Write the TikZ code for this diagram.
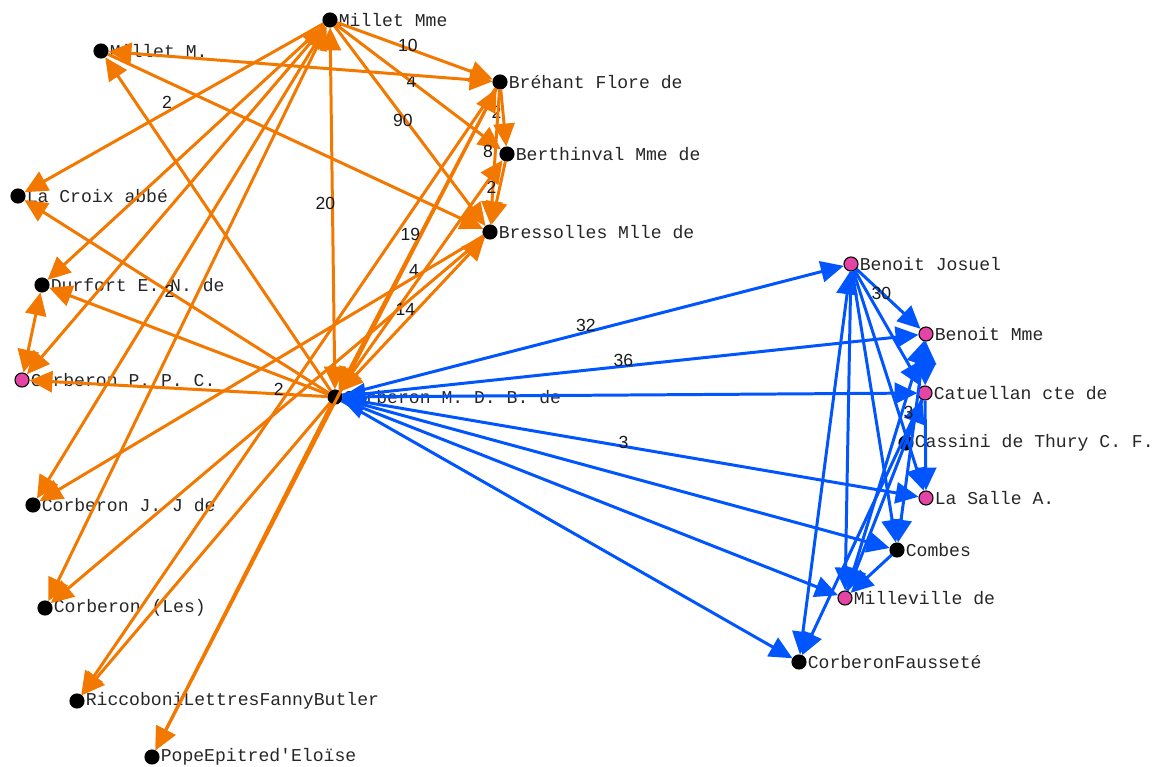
\documentclass[tikz,border=0pt]{standalone}
\usepackage{fontspec}
\setmainfont{Liberation Sans}
\newfontfamily\namefont{Liberation Mono}
\usetikzlibrary{arrows.meta}

\definecolor{edgeorange}{RGB}{242,120,0}
\definecolor{edgeblue}{RGB}{0,85,255}
\definecolor{dotpink}{RGB}{228,68,164}

\begin{document}
\begin{tikzpicture}[
  >={Triangle[length=13pt,width=12pt]},
  namelabel/.style={font=\namefont\fontsize{10.3}{12}\selectfont,text=black!85,inner sep=0.5pt},
  person/.style={circle,draw=black,fill=black,line width=.6pt,minimum size=8pt,inner sep=0pt,
    label={[namelabel]east:{#1}}},
  pinkperson/.style={person={#1},fill=dotpink},
  oedge/.style={draw=edgeorange,line width=1.7pt,->},
  bedge/.style={draw=edgeblue,line width=1.7pt,->},
  weight/.style={midway,font=\fontsize{10}{12}\selectfont,text=black!90,inner sep=0pt,xshift=-4pt,yshift=3pt}
]

\useasboundingbox (0,0) rectangle (23.08,-15.34);

% orange group
\node[person={Millet Mme}]           (mme)  at (6.60,-0.40) {};
\node[person={Millet M.}]            (mm)   at (2.02,-1.02) {};
\node[person={Bréhant Flore de}]     (bre)  at (10.00,-1.64) {};
\node[person={Berthinval Mme de}]    (ber)  at (10.14,-3.08) {};
\node[person={Bressolles Mlle de}]   (bres) at (9.80,-4.64) {};
\node[person={La Croix abbé}]        (lac)  at (0.36,-3.92) {};
\node[person={Durfort E. N. de}]     (dur)  at (0.84,-5.70) {};
\node[pinkperson={Corberon P. P. C.}] (cppc) at (0.44,-7.60) {};
\node[person={Corberon M. D. B. de}] (cmdb) at (6.70,-7.94) {};
\node[person={Corberon J. J de}]     (cjj)  at (0.66,-10.10) {};
\node[person={Corberon (Les)}]       (cles) at (0.90,-12.16) {};
\node[person={RiccoboniLettresFannyButler}] (ricc) at (1.54,-14.02) {};
\node[person={PopeEpitred'Eloïse}]   (pope) at (3.04,-15.14) {};

% blue group
\node[pinkperson={Benoit Josuel}]    (bjos) at (17.02,-5.28) {};
\node[pinkperson={Benoit Mme}]       (bmme) at (18.52,-6.68) {};
\node[pinkperson={Catuellan cte de}] (catu) at (18.50,-7.86) {};
\node[person={Cassini de Thury C. F.}] (cass) at (18.12,-8.86) {};
\node[pinkperson={La Salle A.}]      (lsal) at (18.52,-9.96) {};
\node[person={Combes}]               (comb) at (17.94,-11.00) {};
\node[pinkperson={Milleville de}]    (mill) at (16.90,-11.96) {};
\node[person={CorberonFausseté}]     (cfau) at (15.98,-13.24) {};

\draw[oedge] (mme) -- node[weight] (w1) {10} (bre);
\draw[oedge] (mme) -- node[weight] (w2) {4} (ber);
\draw[oedge] (mme) -- node[weight] (w3) {90} (bres);
\draw[oedge] (mme) -- node[weight] (w4) {2} (lac);
\draw[oedge] (mme) -- (dur);
\draw[oedge,<->] (mme) -- (cppc);
\draw[oedge,<->] (mme) -- (cjj);
\draw[oedge,<->] (mme) -- (cles);
\draw[oedge,<->] (mme) -- node[weight] (w5) {20} (cmdb);
\draw[oedge,<->] (mm) -- (bre);
\draw[oedge] (mm) -- (bres);
\draw[oedge] (cmdb) -- (mm);
\draw[oedge] (cmdb) -- node[weight] (w6) {2} (lac);
\draw[oedge] (cmdb) -- (dur);
\draw[oedge] (cmdb) -- node[weight,pos=.14] (w7) {2} (cppc);
\draw[oedge,<->] (dur) -- (cppc);
\draw[oedge] (bre) -- node[weight] (w8) {2} (ber);
\draw[oedge] (bre) -- node[weight] (w9) {8} (bres);
\draw[oedge] (ber) -- node[weight] (w10) {2} (bres);
\draw[oedge,<->] (cmdb) -- node[weight] (w11) {19} (bre);
\draw[oedge,<->] (cmdb) -- node[weight] (w12) {4} (ber);
\draw[oedge,<->] (cmdb) -- node[weight] (w13) {14} (bres);
\draw[oedge] (bres) -- (cjj);
\draw[oedge] (bres) -- (cles);
\draw[oedge] (cmdb) -- (ricc);
\draw[oedge] (bre) -- (ricc);
\draw[oedge] (cmdb) -- (pope);
\draw[oedge] (bre) -- (pope);

\draw[bedge] (cmdb) -- node[weight] (w14) {32} (bjos);
\draw[bedge,<->] (cmdb) -- node[weight] (w15) {36} (bmme);
\draw[bedge] (cmdb) -- (catu);
\draw[bedge] (cmdb) -- node[weight] (w16) {3} (lsal);
\draw[bedge] (cmdb) -- (comb);
\draw[bedge,<->] (cmdb) -- (mill);
\draw[bedge] (cmdb) -- (cfau);
\draw[bedge] (bjos) -- node[weight] (w17) {30} (bmme);
\draw[bedge] (bjos) -- (catu);
\draw[bedge] (bjos) -- (lsal);
\draw[bedge] (bjos) -- (comb);
\draw[bedge] (bjos) -- (mill);
\draw[bedge,<->] (bjos) -- (cfau);
\draw[bedge,<->] (bmme) -- (catu);
\draw[bedge] (catu) -- (lsal);
\draw[bedge] (cass) -- node[weight] (w18) {3} (catu);
\draw[bedge] (bmme) -- (comb);
\draw[bedge] (comb) -- (mill);
\draw[bedge] (mill) -- (bmme);
\draw[bedge] (catu) -- (mill);
\draw[bedge] (catu) -- (cfau);

\end{tikzpicture}
\end{document}
